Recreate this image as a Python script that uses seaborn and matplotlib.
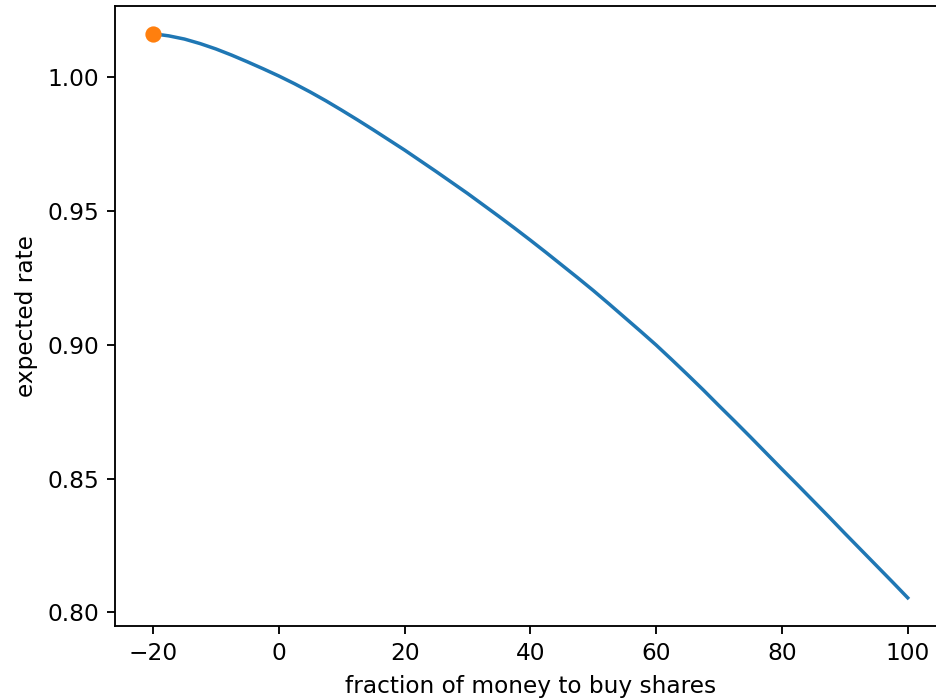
import matplotlib
matplotlib.use("Agg")
import matplotlib.pyplot as plt
import seaborn as sns
import pandas as pd

# fraction of money put into shares (percent) and the resulting expected rate
fraction = [-20, -17.5, -15, -12.5, -10, -7.5, -5, -2.5,
            0, 2.5, 5, 7.5, 10, 12.5, 15, 17.5,
            20, 22.5, 25, 27.5, 30, 32.5, 35, 37.5,
            40, 42.5, 45, 47.5, 50, 52.5, 55, 57.5,
            60, 62.5, 65, 67.5, 70, 72.5, 75, 77.5,
            80, 82.5, 85, 87.5, 90, 92.5, 95, 97.5, 100]
expected_rate = [1.0163, 1.0155, 1.0143, 1.0126, 1.0106, 1.0083, 1.0058, 1.0032,
                 1.0005, 0.9976, 0.9945, 0.9912, 0.9877, 0.9841, 0.9804, 0.9766,
                 0.9728, 0.9688, 0.9648, 0.9607, 0.9566, 0.9523, 0.9480, 0.9436,
                 0.9391, 0.9345, 0.9298, 0.9251, 0.9203, 0.9153, 0.9102, 0.9051,
                 0.8999, 0.8944, 0.8888, 0.8831, 0.8772, 0.8714, 0.8655, 0.8595,
                 0.8535, 0.8476, 0.8416, 0.8356, 0.8295, 0.8235, 0.8175, 0.8115,
                 0.8054]

# best allocation
best_fraction = [-20]
best_rate = [1.0163]

scale = 1.673
plt.rcParams.update({
    "font.size": 10 * scale,
    "axes.linewidth": 0.8 * scale,
    "xtick.major.size": 3.5 * scale,
    "ytick.major.size": 3.5 * scale,
    "xtick.major.width": 0.8 * scale,
    "ytick.major.width": 0.8 * scale,
    "xtick.major.pad": 3.5 * scale,
    "ytick.major.pad": 3.5 * scale,
    "axes.labelpad": 4.0 * scale,
})

curve = pd.DataFrame({"fraction": fraction, "rate": expected_rate})
best = pd.DataFrame({"fraction": best_fraction, "rate": best_rate})

fig = plt.figure(figsize=(9.36, 7.0), dpi=100)
ax = fig.add_axes([0.1232, 0.1057, 0.8869, 0.8864])

sns.lineplot(data=curve, x="fraction", y="rate", ax=ax,
             color="#1f77b4", linewidth=1.5 * scale)
sns.scatterplot(data=best, x="fraction", y="rate", ax=ax,
                color="#ff7f0e", s=(7.0 * scale) ** 2, linewidth=0, zorder=3)

ax.set_xlim(-26, 106)
ax.set_ylim(0.79486, 1.02684)
ax.set_xticks([-20, 0, 20, 40, 60, 80, 100])
ax.set_yticks([0.80, 0.85, 0.90, 0.95, 1.00])
ax.set_xlabel("fraction of money to buy shares")
ax.set_ylabel("expected rate")
# the right edge of the frame lies past the canvas
ax.spines["right"].set_visible(False)

fig.savefig("out.png", dpi=100)
